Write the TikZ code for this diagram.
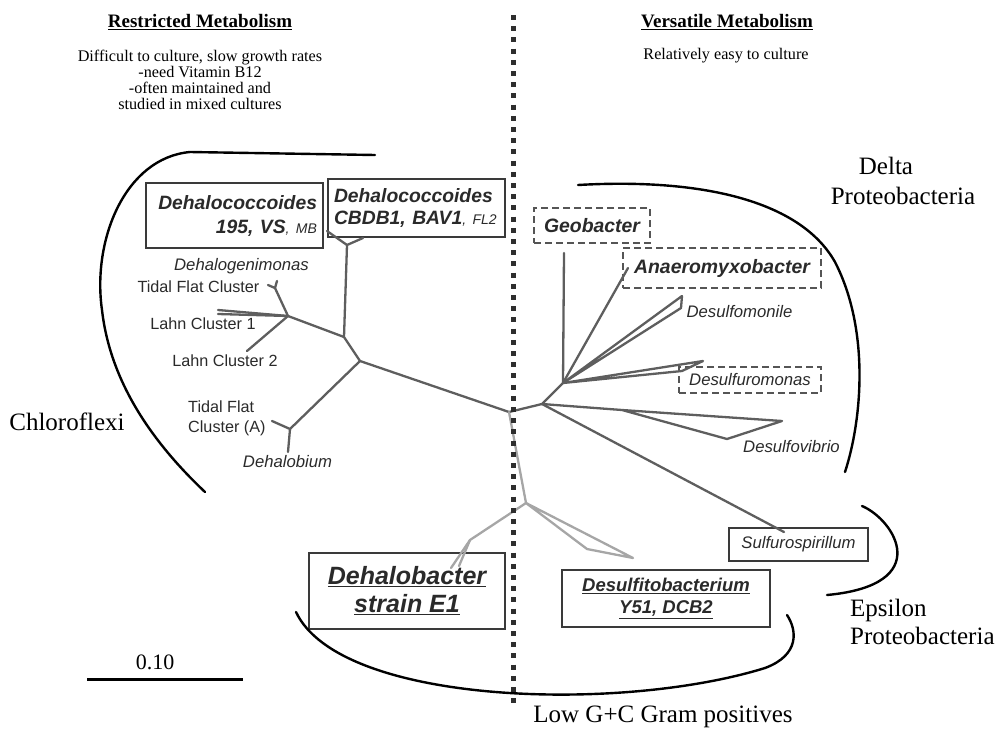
\documentclass[tikz,border=0pt]{standalone}
\usepackage{fontspec}
\setmainfont{Liberation Serif}
\setsansfont{Liberation Sans}
\definecolor{treeg}{HTML}{5E5E5E}
\definecolor{lightg}{HTML}{A6A6A6}
\definecolor{boxg}{HTML}{3A3A3A}
\definecolor{dashg}{HTML}{555555}
\definecolor{labc}{HTML}{2A2A2A}
\definecolor{dotc}{HTML}{2E2E2E}
\begin{document}
\begin{tikzpicture}[x=1pt,y=-1pt,
  tree/.style={draw=treeg, line width=2.3pt, line cap=round, line join=round},
  gpos/.style={draw=lightg, line width=2.3pt, line cap=round, line join=round},
  bracket/.style={draw=black, line width=2.4pt, line cap=round},
  sbox/.style={draw=boxg, line width=1.4pt, fill=white, inner sep=0pt, text=labc},
  dbox/.style={draw=dashg, line width=1.4pt, dash pattern=on 7pt off 4pt, fill=white, inner sep=0pt, text=labc},
  lab/.style={font=\sffamily\itshape\fontsize{16.7}{20}\selectfont, text=labc, inner sep=0pt},
  plab/.style={font=\sffamily\fontsize{16.2}{19}\selectfont, text=labc, inner sep=0pt},
  bi/.style={font=\sffamily\bfseries\itshape\fontsize{19.4}{22}\selectfont},
  big/.style={font=\fontsize{25}{28}\selectfont, inner sep=0pt},
  head/.style={font=\bfseries\fontsize{19}{21}\selectfont, inner sep=0pt},
  note/.style={font=\fontsize{16.2}{16}\selectfont, align=center, inner sep=0pt}
]
\useasboundingbox (0,0) rectangle (996,731);

% ---------- boxes (drawn first, tree tips run over them) ----------
\node[sbox, minimum width=177pt, minimum height=65pt, text width=165pt, align=right,
  font=\sffamily\bfseries\itshape\fontsize{19.3}{24}\selectfont] (dhc1) at (234.5,215.5)
  {Dehalococcoides\\195, VS{\mdseries\fontsize{14}{24}\selectfont, MB}};
\node[sbox, minimum width=177pt, minimum height=58pt, text width=165pt, align=left,
  font=\sffamily\bfseries\itshape\fontsize{19.3}{22}\selectfont] (dhc2) at (416.5,208)
  {Dehalococcoides\\CBDB1, BAV1{\mdseries\fontsize{14}{22}\selectfont, FL2}};
\node[dbox, minimum width=116pt, minimum height=35pt, bi] (geo) at (592,225.5) {Geobacter};
\node[dbox, minimum width=198pt, minimum height=40pt, bi] (ana) at (722,268) {Anaeromyxobacter};
\node[dbox, minimum width=142pt, minimum height=26pt,
  font=\sffamily\itshape\fontsize{16.7}{20}\selectfont] (dfm) at (750,380) {Desulfuromonas};
\node[sbox, minimum width=139pt, minimum height=33pt,
  font=\sffamily\itshape\fontsize{16.7}{20}\selectfont] (sul) at (798.5,544.5) {Sulfurospirillum};
\node[sbox, minimum width=208pt, minimum height=57pt, align=center,
  font=\sffamily\bfseries\itshape\fontsize{18.5}{22}\selectfont] (dsb) at (666,598.5)
  {\underline{Desulfitobacterium}\\\underline{Y51, DCB2}};
\node[sbox, minimum width=196pt, minimum height=76pt, align=center,
  font=\sffamily\bfseries\itshape\fontsize{25}{28}\selectfont] (dhbx) at (407,591)
  {\underline{Dehalobacter}\\\underline{strain E1}};

% ---------- tree coordinates ----------
\coordinate (R1) at (509,412);
\coordinate (R2) at (542,404);
\coordinate (D1) at (563,383);
\coordinate (G1) at (526,503);
\coordinate (L1) at (360,361);
\coordinate (L2) at (344,337);
\coordinate (L3) at (288,316);
\coordinate (Ldc) at (347,245);
\coordinate (T1) at (290,429);
\coordinate (geoT) at (564,253);
\coordinate (anaT) at (628,268);
\coordinate (dmT1) at (682,296);
\coordinate (dmT2) at (681,308);
\coordinate (dfT1) at (703,361);
\coordinate (dfT2) at (682,371);
\coordinate (dvH) at (622,410);
\coordinate (dvT1) at (782,421);
\coordinate (dvT2) at (727,439);
\coordinate (sulT) at (784,532);
\coordinate (dc1) at (327,231);
\coordinate (dc2) at (363,238);
\coordinate (tfT) at (275,288);
\coordinate (tfa) at (268,285);
\coordinate (tfb) at (277,281);
\coordinate (lc1a) at (218,310);
\coordinate (lc1b) at (218,314);
\coordinate (lc2) at (247,351);
\coordinate (tfA) at (272,421);
\coordinate (dhb) at (288,452);
\coordinate (dbH) at (470,540);
\coordinate (db1) at (451,568);
\coordinate (db2) at (459,566);
\coordinate (dsH) at (587,549);
\coordinate (dsT) at (633,558);

% ---------- tree branches ----------
\draw[tree] (R1) -- (L1);
\draw[tree] (R1) -- (R2) -- (D1);
\draw[tree] (L1) -- (L2) -- (Ldc);
\draw[tree] (Ldc) -- (dc1);
\draw[tree] (Ldc) -- (dc2);
\draw[tree] (L2) -- (L3);
\draw[tree] (L3) -- (tfT);
\draw[tree] (tfT) -- (tfa);
\draw[tree] (tfT) -- (tfb);
\draw[tree] (L3) -- (lc1a);
\draw[tree] (L3) -- (lc1b);
\draw[tree] (L3) -- (lc2);
\draw[tree] (L1) -- (T1);
\draw[tree] (T1) -- (tfA);
\draw[tree] (T1) -- (dhb);
\draw[tree] (D1) -- (geoT);
\draw[tree] (D1) -- (anaT);
\draw[tree] (D1) -- (dmT1) -- (dmT2) -- (D1);
\draw[tree] (D1) -- (dfT1) -- (dfT2) -- (D1);
\draw[tree] (R2) -- (dvH) -- (dvT1) -- (dvT2) -- (dvH);
\draw[tree] (R2) -- (sulT);
\draw[gpos] (R1) -- (G1);
\draw[gpos] (G1) -- (dbH);
\draw[gpos] (dbH) -- (db1);
\draw[gpos] (dbH) -- (db2);
\draw[gpos] (G1) -- (dsT) -- (dsH) -- (G1);

% ---------- dotted divider ----------
\coordinate (divT) at (513,15);
\coordinate (divB) at (513,708);
\draw[draw=dotc, line width=5pt, dash pattern=on 5pt off 6.2pt] (divT) -- (divB);

% ---------- group brackets ----------
\coordinate (chA) at (375,155);
\coordinate (chB) at (190,152);
\coordinate (chC) at (102,310);
\coordinate (chD) at (205,492);
\draw[bracket] (chA) -- (chB) .. controls (125,158) and (92,240) .. (chC)
  .. controls (110,380) and (150,440) .. (chD);
\coordinate (deA) at (578,185);
\coordinate (deB) at (835,262);
\coordinate (deC) at (845,472);
\draw[bracket] (deA) .. controls (700,178) and (800,200) .. (deB)
  .. controls (870,330) and (862,420) .. (deC);
\coordinate (epA) at (862,506);
\coordinate (epB) at (827,595);
\draw[bracket] (epA) .. controls (895,520) and (935,585) .. (epB);
\coordinate (lgA) at (296,612);
\coordinate (lgB) at (765,668);
\coordinate (lgC) at (787,615);
\draw[bracket] (lgA) .. controls (340,705) and (620,713) .. (lgB)
  .. controls (800,655) and (797,630) .. (lgC);

% ---------- leaf labels ----------
\node[lab] (dgm) at (241.5,266) {Dehalogenimonas};
\node[plab] (tfc) at (198.5,287) {Tidal Flat Cluster};
\node[plab] (lhc1) at (203,324) {Lahn Cluster 1};
\node[plab] (lhc2) at (225,361) {Lahn Cluster 2};
\node[plab, anchor=west, align=left, font=\sffamily\fontsize{16.2}{19.5}\selectfont] (tfca) at (188,418.5) {Tidal Flat\\Cluster (A)};
\node[lab] (dhbm) at (287.5,462) {Dehalobium};
\node[lab] (dsmn) at (739.5,312) {Desulfomonile};
\node[lab] (dsvb) at (791.5,447) {Desulfovibrio};

% ---------- group labels ----------
\node[big] (chl) at (67,422) {Chloroflexi};
\node[big] (dlt) at (886,166) {Delta};
\node[big] (dltp) at (903,196) {Proteobacteria};
\node[big, anchor=west, align=left] (eps) at (850,622) {Epsilon\\Proteobacteria};
\node[big] (lgc) at (663,717) {Low G+C Gram positives};

% ---------- scale bar ----------
\coordinate (sbA) at (87,679);
\coordinate (sbB) at (243,679);
\draw[draw=black, line width=3pt] (sbA) -- (sbB);
\node[font=\fontsize{22}{24}\selectfont, inner sep=0pt] (sbl) at (155,662) {0.10};

% ---------- headers ----------
\node[head] (rm) at (200,22) {\underline{Restricted Metabolism}};
\node[note] (rmn) at (200,80) {Difficult to culture, slow growth rates\\-need Vitamin B12\\-often maintained and\\studied in mixed cultures};
\node[head] (vm) at (727,22) {\underline{Versatile Metabolism}};
\node[note] (vmn) at (726,56) {Relatively easy to culture};
\end{tikzpicture}
\end{document}
